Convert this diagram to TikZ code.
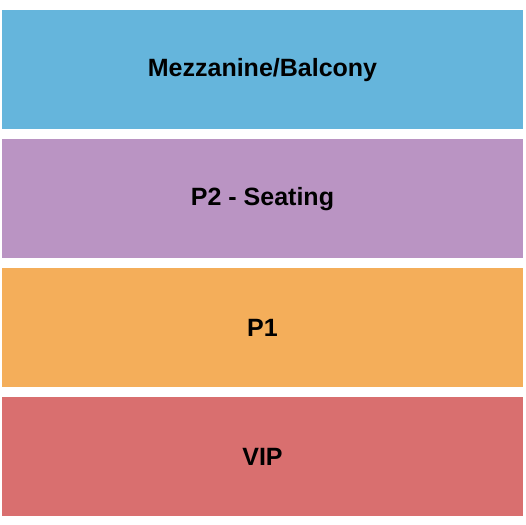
\documentclass[tikz,border=0pt]{standalone}
\usepackage{fontspec}
\setmainfont{Liberation Sans}
\usepackage{tikz}
\definecolor{mezzblue}{RGB}{101,181,220}
\definecolor{ptwopurple}{RGB}{186,148,195}
\definecolor{poneorange}{RGB}{244,174,90}
\definecolor{vipred}{RGB}{217,111,111}
\tikzset{
	section/.style={draw=none},
	sectionlabel/.style={font=\fontsize{25bp}{30bp}\selectfont\bfseries, text=black, inner sep=0pt}
}

\begin{document}
\begin{tikzpicture}[x=1bp, y=-1bp]
			%%%%% START %%%%%
			
			\useasboundingbox (0, 0) rectangle (525, 525);
			
			\fill[section, fill=mezzblue] (2, 10) rectangle (523, 128.7);
			\node[sectionlabel] (mezzanine) at (262.5, 69.8) {Mezzanine/Balcony};
			
			\fill[section, fill=ptwopurple] (2, 139) rectangle (523, 257.7);
			\node[sectionlabel] (ptwo) at (262.5, 198.8) {P2 - Seating};
			
			\fill[section, fill=poneorange] (2, 268) rectangle (523, 386.7);
			\node[sectionlabel] (pone) at (262.5, 327.8) {P1};
			
			\fill[section, fill=vipred] (2, 397) rectangle (523, 515.7);
			\node[sectionlabel] (vip) at (262.5, 456.8) {VIP};
			
			%%%%% END %%%%%
		\end{tikzpicture}
\end{document}
